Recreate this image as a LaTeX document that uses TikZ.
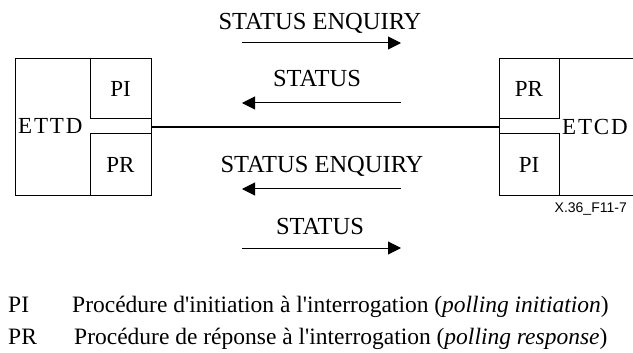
\documentclass[tikz,border=0pt]{standalone}
\usepackage{fontspec}
\setmainfont{Liberation Serif}
\setsansfont{Liberation Sans}
\newfontfamily\spacedfont[LetterSpace=8]{Liberation Serif}
\usepackage{tikz}
\usetikzlibrary{arrows.meta,positioning}
\tikzset{
  box/.style={draw, line width=1pt, inner sep=0pt, font=\fontsize{23}{27}\selectfont},
  msg/.style={anchor=base, font=\fontsize{24.5}{28}\selectfont},
  side/.style={anchor=base west, inner sep=0pt, font=\fontsize{23}{27}\spacedfont},
  legend/.style={anchor=base west, inner sep=0pt, font=\fontsize{23.5}{27}\selectfont},
  flow/.style={line width=1pt, -{Triangle[length=13pt,width=13pt]}},
  link/.style={line width=2.5pt}
}
\begin{document}
\begin{tikzpicture}[x=1pt,y=-1pt]
  \clip (0,0) rectangle (633,353);
  % ETTD side
  \node[box, minimum width=136pt, minimum height=136pt] (ettd) at (83,127) {};
  \node[box, minimum width=61pt, minimum height=60pt] (pil) at (120.5,89) {PI};
  \node[box, minimum width=61pt, minimum height=61pt] (prl) at (120.5,164.5) {PR};
  \node[side] (ettdname) at (18,134) {ETTD};
  % ETCD side
  \node[box, minimum width=201pt, minimum height=136pt] (etcd) at (599.5,127) {};
  \node[box, minimum width=60pt, minimum height=60pt] (prr) at (529,89) {PR};
  \node[box, minimum width=60pt, minimum height=61pt] (pir) at (529,164.5) {PI};
  \node[side] (etcdname) at (562,135) {ETCD};
  \draw[link] (ettd.east) -- (etcd.west);
  % messages
  \node[msg] (m1) at (320,30) {STATUS ENQUIRY};
  \node[msg] (m2) at (317,87) {STATUS};
  \node[msg] (m3) at (322,172) {STATUS ENQUIRY};
  \node[msg] (m4) at (320,234) {STATUS};
  \coordinate (a1) at (242,43);  \coordinate (b1) at (401,43);
  \coordinate (a2) at (242,103); \coordinate (b2) at (401,103);
  \coordinate (a3) at (242,189); \coordinate (b3) at (401,189);
  \coordinate (a4) at (242,248); \coordinate (b4) at (401,248);
  \draw[flow] (a1) -- (b1);
  \draw[flow] (b2) -- (a2);
  \draw[flow] (b3) -- (a3);
  \draw[flow] (a4) -- (b4);
  \node[anchor=base east, inner sep=0pt, font=\sffamily\fontsize{14}{16}\selectfont] (fig) at (627,212) {X.36\_F11-7};
  % legend
  \node[legend] (k1) at (8,312) {PI};
  \node[legend] (t1) at (72,312) {Procédure d\textquotesingle initiation à l\textquotesingle interrogation (\textit{polling initiation})};
  \node[legend] (k2) at (8,344) {PR};
  \node[legend] (t2) at (74,344) {Procédure de réponse à l\textquotesingle interrogation (\textit{polling response})};
\end{tikzpicture}
\end{document}
